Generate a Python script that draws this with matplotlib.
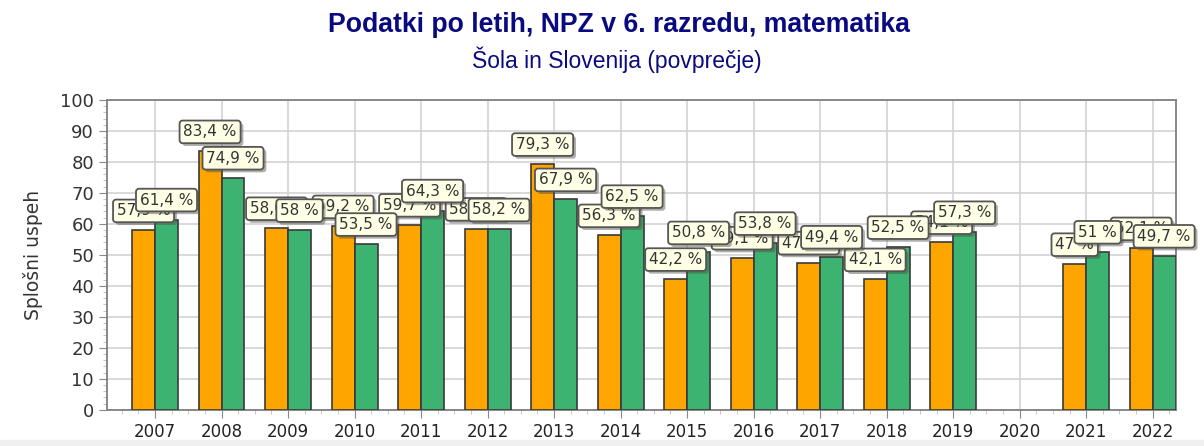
import numpy as np
from matplotlib import pyplot as plt
from matplotlib import patheffects as pe
from matplotlib.ticker import MultipleLocator

leta = ['2007', '2008', '2009', '2010', '2011', '2012', '2013', '2014',
        '2015', '2016', '2017', '2018', '2019', '2020', '2021', '2022']
sola = [57.9, 83.4, 58.6, 59.2, 59.7, 58.4, 79.3, 56.3,
        42.2, 49.1, 47.5, 42.1, 54.1, None, 47, 52.1]
slovenija = [61.4, 74.9, 58, 53.5, 64.3, 58.2, 67.9, 62.5,
             50.8, 53.8, 49.4, 52.5, 57.3, None, 51, 49.7]

navy = '#0a0a80'
fig = plt.figure(figsize=(12.04, 4.46), dpi=100)
ax = fig.add_axes([0.089, 0.081, 0.8877, 0.695])

x = np.arange(len(leta))
w = 0.345

def lab(v):
    s = ('%g' % v).replace('.', ',')
    return s + ' %'

def draw(vals, off, color):
    for i, v in enumerate(vals):
        if v is None:
            continue
        ax.bar(x[i] + off, v, w, color=color, edgecolor='#3a3a3a', linewidth=1.2, zorder=3)

def labels(vals, off):
    for i, v in enumerate(vals):
        if v is None:
            continue
        t = ax.annotate(lab(v), (x[i] + off, v), xytext=(0, 12), textcoords='offset pixels',
                        ha='center', va='bottom', fontsize=11, color='#333333', zorder=5,
                        bbox=dict(boxstyle='round,pad=0.25,rounding_size=0.2', fc='#ffffe6',
                                  ec='#555555', lw=1.3))
        t.get_bbox_patch().set_path_effects([pe.SimplePatchShadow(offset=(2, -2), alpha=0.45), pe.Normal()])

draw(sola, -w / 2, '#ffa500')
draw(slovenija, w / 2, '#3cb371')
labels(sola, -w / 2)
labels(slovenija, w / 2)

ax.set_xlim(-0.72, 15.35)
ax.set_ylim(0, 100)
ax.set_xticks(x)
ax.set_xticklabels(leta, fontsize=12, color='#222222')
ax.xaxis.set_minor_locator(MultipleLocator(0.25))
ax.yaxis.set_major_locator(MultipleLocator(10))
ax.yaxis.set_minor_locator(MultipleLocator(2))
ax.tick_params(axis='y', labelsize=13, colors='#333333', length=6, color='#888888')
ax.tick_params(axis='x', length=6, color='#888888')
ax.tick_params(which='minor', length=3, color='#bbbbbb')
ax.grid(True, color='#d3d3d3', linewidth=1.2, zorder=0)
ax.set_axisbelow(True)
for s in ax.spines.values():
    s.set_color('#808080')
    s.set_linewidth(1.3)
ax.set_ylabel('Splošni uspeh', fontsize=13.5, color='#333333', labelpad=12)

fig.text(0.514, 0.944, 'Podatki po letih, NPZ v 6. razredu, matematika', ha='center', va='center',
         fontsize=19.2, fontweight='bold', color=navy, family='Liberation Sans')
fig.text(0.512, 0.865, 'Šola in Slovenija (povprečje)', ha='center', va='center',
         fontsize=16.5, color=navy, family='Liberation Sans')
fig.patches.append(plt.Rectangle((0, 0), 1, 0.013, transform=fig.transFigure, color='#f0f0f0'))

fig.savefig('out.png', dpi=100)
